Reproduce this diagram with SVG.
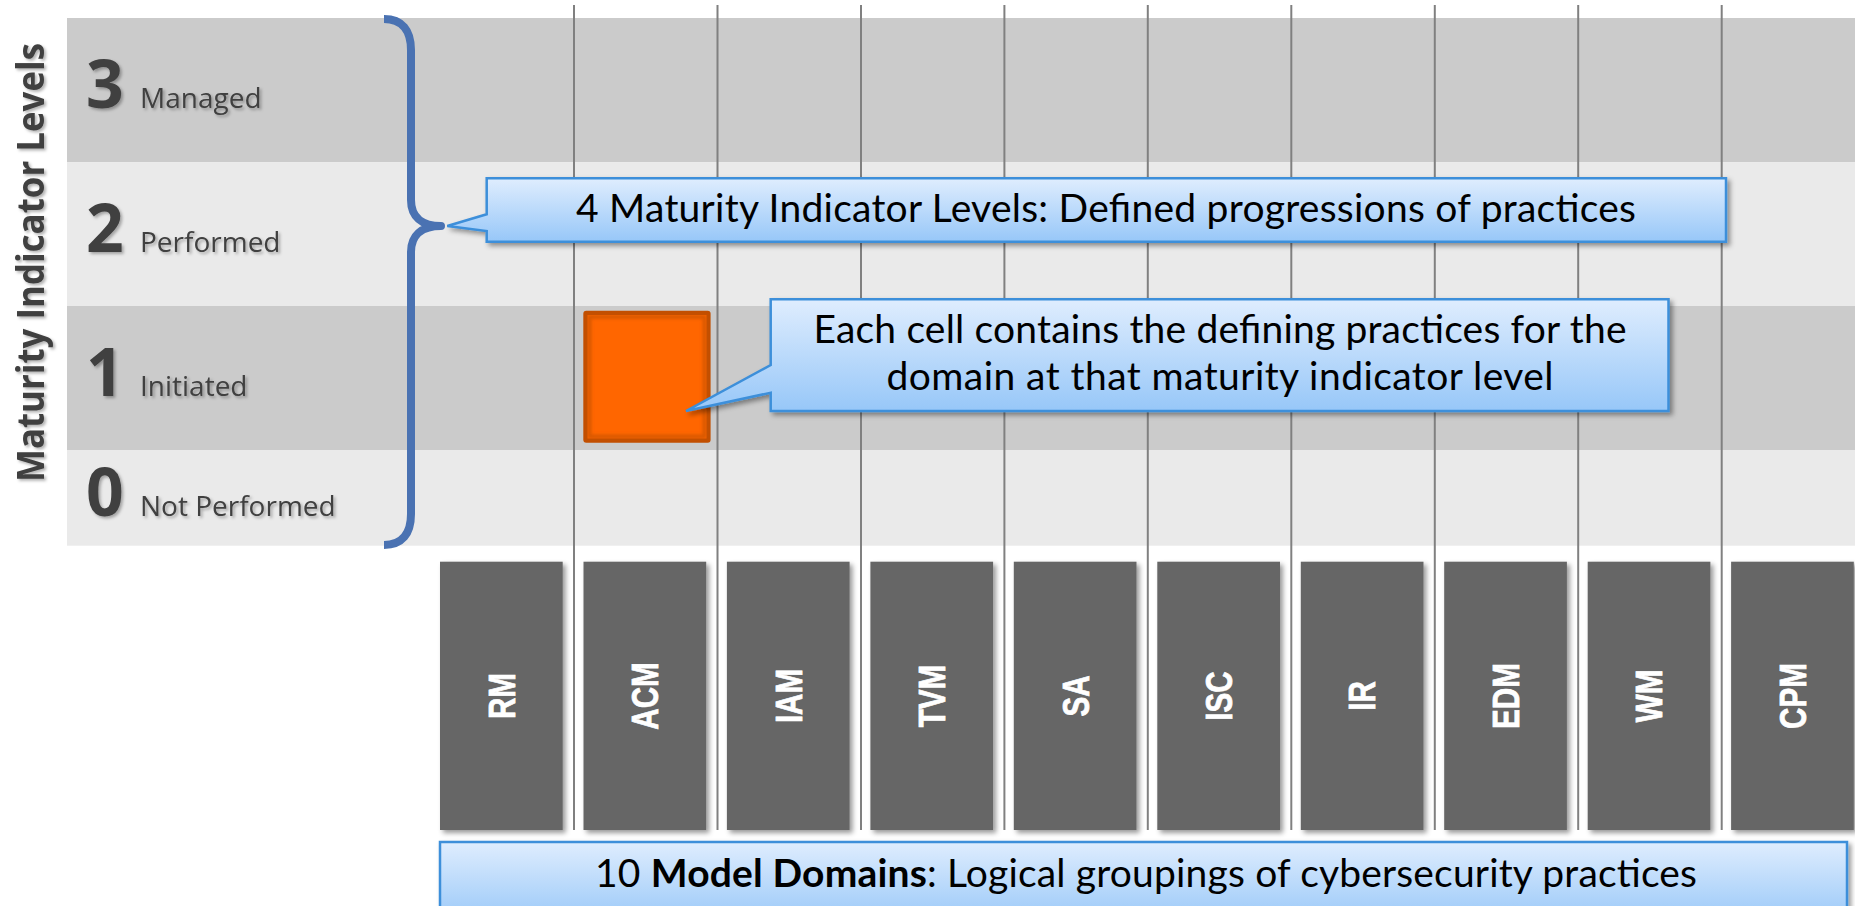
<svg xmlns="http://www.w3.org/2000/svg" width="1855" height="906" viewBox="0 0 1855 906">
<defs>
<linearGradient id="cg" x1="0" y1="0" x2="0" y2="1">
<stop offset="0" stop-color="#DFEDFE"/>
<stop offset="1" stop-color="#97C7F8"/>
</linearGradient>
<filter id="sh" x="-10%" y="-20%" width="130%" height="150%"><feDropShadow dx="3" dy="3" stdDeviation="2.5" flood-color="#000" flood-opacity="0.4"/></filter>
<filter id="tsh" x="-10%" y="-20%" width="130%" height="150%"><feDropShadow dx="2" dy="2" stdDeviation="1.5" flood-color="#000" flood-opacity="0.3"/></filter>
<filter id="inner" x="-10%" y="-10%" width="120%" height="120%"><feGaussianBlur stdDeviation="1.5"/></filter>
</defs>
<style>
.bd{fill:#CBCBCB}
.bl{fill:#EAEAEA}
.num{font-family:'Open Sans',sans-serif;font-weight:700;font-size:66px;fill:#404040}
.lvl{font-family:'Open Sans',sans-serif;font-size:28px;fill:#404040}
.ttl{font-family:'Open Sans',sans-serif;font-weight:700;font-size:38px;fill:#404040;text-anchor:middle}
#grid line{stroke:#808080;stroke-width:2}
.dom rect{fill:#666666}
.dom text{font-family:'Liberation Sans',Arial,sans-serif;font-weight:700;font-size:37px;fill:#FFFFFF;stroke:#FFFFFF;stroke-width:0.8;text-anchor:middle}
.call path{fill:url(#cg);stroke:#3C8FDA;stroke-width:2.5}
.call text{font-family:Lato,sans-serif;font-size:39px;fill:#000000;text-anchor:middle}
.brace{fill:none;stroke:#4A72B2;stroke-width:8;stroke-linejoin:round}
</style>

<g id="bands">
<rect class="bd" x="67" y="18" width="1788" height="144.3"/>
<rect class="bl" x="67" y="162.3" width="1788" height="143.7"/>
<rect class="bd" x="67" y="306" width="1788" height="144"/>
<rect class="bl" x="67" y="450" width="1788" height="95.7"/>
</g>

<g id="axis-title" filter="url(#tsh)">
<text class="ttl" transform="translate(43.5,262.5) rotate(-90)" x="0" y="0" textLength="439" lengthAdjust="spacingAndGlyphs">Maturity Indicator Levels</text>
</g>

<g id="level-3" filter="url(#tsh)">
<text class="num" x="86" y="108">3</text>
<text class="lvl" x="140" y="108">Managed</text>
</g>
<g id="level-2" filter="url(#tsh)">
<text class="num" x="86" y="252">2</text>
<text class="lvl" x="140" y="252">Performed</text>
</g>
<g id="level-1" filter="url(#tsh)">
<text class="num" x="86" y="396">1</text>
<text class="lvl" x="140" y="396">Initiated</text>
</g>
<g id="level-0" filter="url(#tsh)">
<text class="num" x="86" y="516">0</text>
<text class="lvl" x="140" y="516">Not Performed</text>
</g>

<g id="grid">
<line x1="574" y1="5" x2="574" y2="830"/>
<line x1="717.5" y1="5" x2="717.5" y2="830"/>
<line x1="861" y1="5" x2="861" y2="830"/>
<line x1="1004.4" y1="5" x2="1004.4" y2="830"/>
<line x1="1147.8" y1="5" x2="1147.8" y2="830"/>
<line x1="1291.3" y1="5" x2="1291.3" y2="830"/>
<line x1="1434.8" y1="5" x2="1434.8" y2="830"/>
<line x1="1578.2" y1="5" x2="1578.2" y2="830"/>
<line x1="1721.7" y1="5" x2="1721.7" y2="830"/>
</g>

<g id="connectors">
<path class="brace" d="M384,19 C402,19 411,30 411,50 L411,200 C411,216 421,226 441,226 C421,226 411,236 411,252 L411,514 C411,534 402,545 384,545"/>
</g>

<g id="cell-acm-1">
<rect x="583.3" y="310.7" width="127.3" height="132" rx="3" fill="#C24F00"/>
<rect x="587.5" y="315" width="119" height="123.5" fill="#FF6600"/>
<rect x="589.5" y="317" width="115" height="119.5" fill="none" stroke="#C85200" stroke-width="4" opacity="0.7" filter="url(#inner)"/>
</g>

<g id="domains" class="dom">
<g id="dom-rm"><rect x="440" y="561.7" width="122.7" height="268.3" filter="url(#sh)"/><text transform="translate(501.4,696) rotate(-90) scale(0.8,1)" x="0" y="13.3">RM</text></g>
<g id="dom-acm"><rect x="583.5" y="561.7" width="122.7" height="268.3" filter="url(#sh)"/><text transform="translate(644.8,696) rotate(-90) scale(0.8,1)" x="0" y="13.3">ACM</text></g>
<g id="dom-iam"><rect x="726.9" y="561.7" width="122.7" height="268.3" filter="url(#sh)"/><text transform="translate(788.3,696) rotate(-90) scale(0.8,1)" x="0" y="13.3">IAM</text></g>
<g id="dom-tvm"><rect x="870.4" y="561.7" width="122.7" height="268.3" filter="url(#sh)"/><text transform="translate(931.7,696) rotate(-90) scale(0.8,1)" x="0" y="13.3">TVM</text></g>
<g id="dom-sa"><rect x="1013.8" y="561.7" width="122.7" height="268.3" filter="url(#sh)"/><text transform="translate(1075.2,696) rotate(-90) scale(0.8,1)" x="0" y="13.3">SA</text></g>
<g id="dom-isc"><rect x="1157.3" y="561.7" width="122.7" height="268.3" filter="url(#sh)"/><text transform="translate(1218.6,696) rotate(-90) scale(0.8,1)" x="0" y="13.3">ISC</text></g>
<g id="dom-ir"><rect x="1300.8" y="561.7" width="122.7" height="268.3" filter="url(#sh)"/><text transform="translate(1362.1,696) rotate(-90) scale(0.8,1)" x="0" y="13.3">IR</text></g>
<g id="dom-edm"><rect x="1444.2" y="561.7" width="122.7" height="268.3" filter="url(#sh)"/><text transform="translate(1505.6,696) rotate(-90) scale(0.8,1)" x="0" y="13.3">EDM</text></g>
<g id="dom-wm"><rect x="1587.7" y="561.7" width="122.7" height="268.3" filter="url(#sh)"/><text transform="translate(1649,696) rotate(-90) scale(0.8,1)" x="0" y="13.3">WM</text></g>
<g id="dom-cpm"><rect x="1731.1" y="561.7" width="122.7" height="268.3" filter="url(#sh)"/><text transform="translate(1792.5,696) rotate(-90) scale(0.8,1)" x="0" y="13.3">CPM</text></g>
</g>

<g id="callout-levels" class="call">
<path filter="url(#sh)" d="M486.7,178.3 H1726 V241.7 H486.7 V231 L447.3,226 L486.7,214.3 Z"/>
<text x="1106" y="221.7" textLength="1060">4 Maturity Indicator Levels: Defined progressions of practices</text>
</g>

<g id="callout-cell" class="call">
<path filter="url(#sh)" d="M770.7,299.3 H1668.5 V411 H770.7 V392.7 L686,411 L770.7,365 Z"/>
<text x="1220" y="343.3" textLength="813">Each cell contains the defining practices for the</text>
<text x="1220" y="390" textLength="667">domain at that maturity indicator level</text>
</g>

<g id="callout-domains" class="call">
<path filter="url(#sh)" d="M440,842 H1847 V925 H440 Z"/>
<text x="1146" y="887" textLength="1102">10 <tspan font-weight="700">Model Domains</tspan>: Logical groupings of cybersecurity practices</text>
</g>
</svg>
